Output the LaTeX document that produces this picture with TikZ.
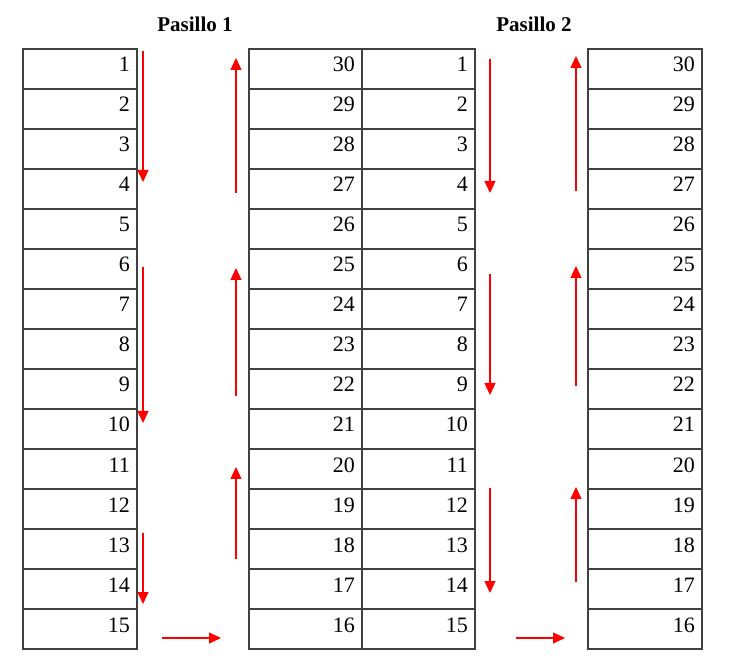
\documentclass[tikz,border=0pt]{standalone}
\usepackage{fontspec}
\setmainfont{Liberation Serif}
\usetikzlibrary{arrows.meta}
\begin{document}
\begin{tikzpicture}[x=1pt,y=-1pt,
  cellbox/.style={draw=black!75, line width=1.2pt},
  num/.style={anchor=base east, inner sep=0pt, font=\fontsize{22}{22}\selectfont},
  title/.style={font=\bfseries\fontsize{21}{21}\selectfont, inner sep=0pt},
  redarrow/.style={draw=red, line width=1.3pt, -{Triangle[width=11pt,length=12pt]}}]
\useasboundingbox[fill=white] (0,0) rectangle (729,660);
\node[title] (t1) at (195,24) {Pasillo 1};
\node[title] (t2) at (534,24) {Pasillo 2};
\foreach \i [evaluate=\i as \yt using 9+40*\i, evaluate=\i as \j using int(31-\i)] in {1,...,15} {
  \draw[cellbox] (23,\yt) rectangle (137,{\yt+40});
  \draw[cellbox] (249,\yt) rectangle (362,{\yt+40});
  \draw[cellbox] (362,\yt) rectangle (475,{\yt+40});
  \draw[cellbox] (588,\yt) rectangle (702,{\yt+40});
  \node[num] (L\i) at (130,{\yt+23}) {\i};
  \node[num] (ML\i) at (355,{\yt+23}) {\j};
  \node[num] (MR\i) at (468,{\yt+23}) {\i};
  \node[num] (R\i) at (695,{\yt+23}) {\j};
}
% left aisle
\coordinate (a1s) at (143,51);  \coordinate (a1e) at (143,182);
\coordinate (a2s) at (143,267); \coordinate (a2e) at (143,423);
\coordinate (a3s) at (143,533); \coordinate (a3e) at (143,604);
\coordinate (b1s) at (236,193); \coordinate (b1e) at (236,58);
\coordinate (b2s) at (236,396); \coordinate (b2e) at (236,268);
\coordinate (b3s) at (236,559); \coordinate (b3e) at (236,467);
\coordinate (h1s) at (162,638); \coordinate (h1e) at (221,638);
% right aisle
\coordinate (c1s) at (490,59);  \coordinate (c1e) at (490,193);
\coordinate (c2s) at (490,274); \coordinate (c2e) at (490,395);
\coordinate (c3s) at (490,488); \coordinate (c3e) at (490,593);
\coordinate (d1s) at (576,191); \coordinate (d1e) at (576,56);
\coordinate (d2s) at (576,386); \coordinate (d2e) at (576,266);
\coordinate (d3s) at (576,582); \coordinate (d3e) at (576,487);
\coordinate (h2s) at (516,638); \coordinate (h2e) at (565,638);
\foreach \p in {a1,a2,a3,b1,b2,b3,h1,c1,c2,c3,d1,d2,d3,h2}
  \draw[redarrow] (\p s) -- (\p e);
\end{tikzpicture}
\end{document}
